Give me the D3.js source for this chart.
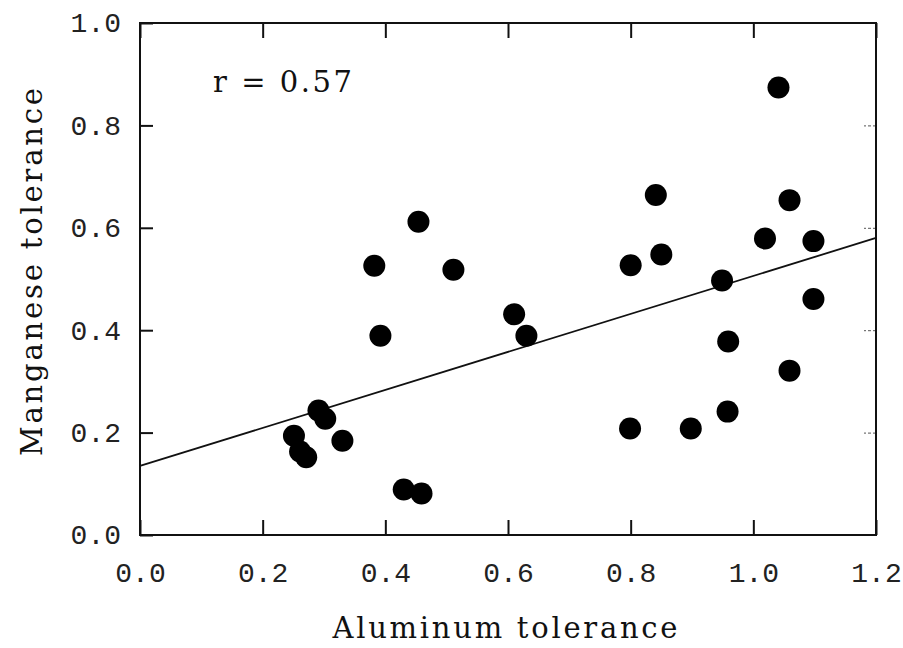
<!DOCTYPE html>
<html>
<head>
<meta charset="utf-8">
<script src="https://cdn.jsdelivr.net/npm/d3@7"></script>
<style>
  body { margin: 0; background: #fff; }
  svg { display: block; }
  .tick text { font-family: "Liberation Mono", monospace; font-size: 28px; fill: #222; }
  .title { font-family: "DejaVu Serif", serif; font-size: 29px; fill: #111; }
</style>
</head>
<body>
<svg id="chart" width="903" height="648"></svg>
<script>
// aluminum tolerance (x) and manganese tolerance (y)
var alTolerance = [0.454, 0.382, 0.511, 0.610, 0.630, 0.392, 0.291, 0.302, 0.251, 0.330,
                   0.261, 0.271, 0.430, 0.459, 0.841, 1.059, 1.019, 1.098, 0.850, 0.800,
                   0.949, 1.098, 0.959, 1.059, 0.958, 0.799, 0.898, 1.041];
var mnTolerance = [0.612, 0.526, 0.518, 0.431, 0.389, 0.389, 0.243, 0.227, 0.194, 0.184,
                   0.163, 0.152, 0.089, 0.081, 0.664, 0.654, 0.579, 0.574, 0.548, 0.527,
                   0.497, 0.461, 0.378, 0.321, 0.241, 0.208, 0.208, 0.874];
var xTicks = [0.0, 0.2, 0.4, 0.6, 0.8, 1.0, 1.2];
var yTicks = [0.0, 0.2, 0.4, 0.6, 0.8, 1.0];
var fitIntercept = 0.135;
var fitSlope = 0.371;
var corrLabel = 'r = 0.57';

(function () {
    var svg = d3.select('#chart');
    var pLeft = 140, pRight = 876, pTop = 23, pBottom = 535;

    var x = d3.scaleLinear().domain([0, 1.2]).range([pLeft, pRight]);
    var y = d3.scaleLinear().domain([0, 1.0]).range([pBottom, pTop]);
    var fmt = d3.format('.1f');

    function styleTicks(g, color, width, dash) {
        g.select('.domain').remove();
        g.selectAll('.tick line')
            .attr('stroke', color)
            .attr('stroke-width', width)
            .attr('stroke-dasharray', dash);
    }

    // axes, ticks pointing inward
    svg.append('g')
        .attr('transform', 'translate(0,' + pBottom + ')')
        .call(d3.axisBottom(x).tickValues(xTicks).tickFormat(fmt).tickSizeInner(-15).tickPadding(27))
        .call(styleTicks, '#111', 2, null);
    svg.append('g')
        .attr('transform', 'translate(0,' + pTop + ')')
        .call(d3.axisTop(x).tickValues(xTicks).tickFormat('').tickSizeInner(-15))
        .call(styleTicks, '#111', 2, null);
    svg.append('g')
        .attr('transform', 'translate(' + pLeft + ',0)')
        .call(d3.axisLeft(y).tickValues(yTicks).tickFormat(fmt).tickSizeInner(-13).tickPadding(19))
        .call(styleTicks, '#111', 2, null);
    svg.append('g')
        .attr('transform', 'translate(' + pRight + ',0)')
        .call(d3.axisRight(y).tickValues(yTicks).tickFormat('').tickSizeInner(-12))
        .call(styleTicks, '#555', 1, '3,2');

    // frame
    svg.append('rect')
        .attr('x', pLeft).attr('y', pTop)
        .attr('width', pRight - pLeft).attr('height', pBottom - pTop)
        .attr('fill', 'none').attr('stroke', '#111').attr('stroke-width', 2);

    // regression line
    var fit = [0, 1.2].map(function (v) { return [v, fitIntercept + fitSlope * v]; });
    svg.append('path')
        .attr('d', d3.line().x(function (d) { return x(d[0]); }).y(function (d) { return y(d[1]); })(fit))
        .attr('fill', 'none').attr('stroke', '#111').attr('stroke-width', 1.8);

    // points
    svg.selectAll('.pt').data(d3.range(alTolerance.length)).enter().append('circle')
        .attr('class', 'pt')
        .attr('cx', function (i) { return x(alTolerance[i]); })
        .attr('cy', function (i) { return y(mnTolerance[i]); })
        .attr('r', 11)
        .attr('fill', '#000');

    // annotation and titles
    svg.append('text').attr('class', 'title')
        .attr('x', 213).attr('y', 92)
        .attr('textLength', 139)
        .text(corrLabel);
    svg.append('text').attr('class', 'title')
        .attr('x', 505).attr('y', 638)
        .attr('text-anchor', 'middle')
        .attr('textLength', 345)
        .text('Aluminum tolerance');
    svg.append('text').attr('class', 'title')
        .attr('transform', 'translate(42,272) rotate(-90)')
        .attr('text-anchor', 'middle')
        .attr('textLength', 368)
        .text('Manganese tolerance');
})();
</script>
</body>
</html>
